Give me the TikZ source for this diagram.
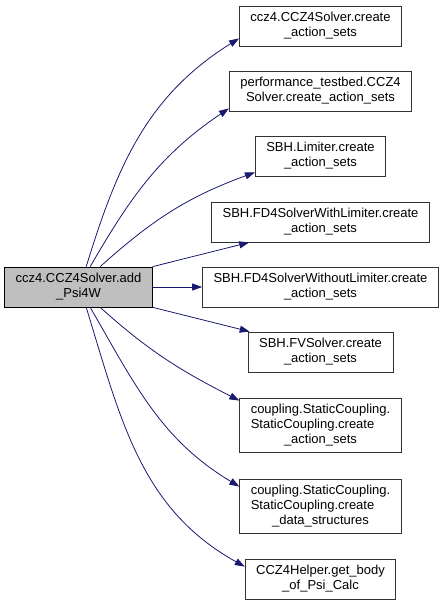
\documentclass[tikz,border=0pt]{standalone}
\usepackage{fontspec}
\setmainfont{Liberation Sans}
\usetikzlibrary{arrows.meta}
\usetikzlibrary{calc}

\definecolor{edgeblue}{HTML}{191970}
\tikzset{
  fnbox/.style={draw=black!80, line width=0.8pt, fill=white, align=center,
    inner xsep=11pt, inner ysep=6pt, minimum height=40pt,
    font=\fontsize{13}{15}\selectfont},
  curbox/.style={fnbox, draw=black, fill=black!25},
  calls/.style={draw=edgeblue, line width=0.8pt, -{Triangle[length=10pt,width=7pt]}},
}

\begin{document}
\begin{tikzpicture}[x=1pt,y=-1pt]
\useasboundingbox (0,0) rectangle (445,605);

\node[curbox] (main) at (78.5,287) {ccz4.CCZ4Solver.add\\\_Psi4W};

\node[fnbox] (ccz) at (320.5,26) {ccz4.CCZ4Solver.create\\\_action\_sets};
\node[fnbox] (perf) at (320.5,91) {performance\_testbed.CCZ4\\Solver.create\_action\_sets};
\node[fnbox] (lim) at (320.5,156) {SBH.Limiter.create\\\_action\_sets};
\node[fnbox] (fdw) at (320.5,222) {SBH.FD4SolverWithLimiter.create\\\_action\_sets};
\node[fnbox] (fdwo) at (320.5,287) {SBH.FD4SolverWithoutLimiter.create\\\_action\_sets};
\node[fnbox] (fv) at (320.5,352) {SBH.FVSolver.create\\\_action\_sets};
\node[fnbox] (cpa) at (320.5,425) {coupling.StaticCoupling.\\\rlap{StaticCoupling.create}\phantom{coupling.StaticCoupling.}\\\_action\_sets};
\node[fnbox] (cpd) at (320.5,506) {coupling.StaticCoupling.\\\rlap{StaticCoupling.create}\phantom{coupling.StaticCoupling.}\\\_data\_structures};
\node[fnbox] (help) at (320.5,579) {CCZ4Helper.get\_body\\\_of\_Psi\_Calc};

\draw[calls] ([xshift=82pt]main.north west) to[out=73,in=212] ([yshift=8pt]ccz.south west);
\draw[calls] ([xshift=86pt]main.north west) to[out=60,in=214] ([yshift=3pt]perf.south west);
\draw[calls] ([xshift=96pt]main.north west) to[out=42,in=200] ([yshift=4pt]lim.south west);
\draw[calls] (main.north east) -- ([xshift=38pt]fdw.south west);
\draw[calls] (main.east) -- (fdwo.west);
\draw[calls] (main.south east) -- ([xshift=2pt]fv.north west);
\draw[calls] ([xshift=96pt]main.south west) to[out=-42,in=153] ([yshift=-3pt]cpa.north west);
\draw[calls] ([xshift=86pt]main.south west) to[out=-60,in=149] ([yshift=-8pt]cpd.north west);
\draw[calls] ([xshift=82pt]main.south west) to[out=-73,in=151] ([yshift=-8pt]help.north west);

\end{tikzpicture}
\end{document}
